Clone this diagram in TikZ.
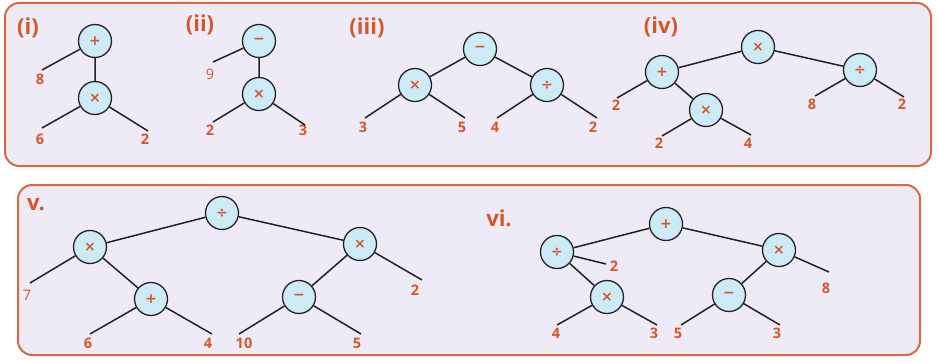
\documentclass[tikz,border=0pt]{standalone}
\usepackage{fontspec}
\setmainfont{Open Sans}
\newfontfamily\opfont{DejaVu Sans}
\definecolor{bord}{HTML}{D96A3F}
\definecolor{panelfill}{HTML}{EEEBF7}
\definecolor{txt}{HTML}{D4572A}
\definecolor{nodefill}{HTML}{CDEAF7}
\definecolor{linec}{HTML}{222222}
\begin{document}
\begin{tikzpicture}[x=1pt,y=-1pt,
  op/.style={circle, draw=linec, line width=1.3pt, fill=nodefill, minimum size=33pt, inner sep=0pt, text=txt, font=\opfont\bfseries\fontsize{14}{14}\selectfont},
  lf/.style={text=txt, font=\bfseries\fontsize{14.5}{14.5}\selectfont, inner sep=0pt},
  lfl/.style={text=txt, font=\fontsize{14.5}{14.5}\selectfont, inner sep=0pt},
  hd/.style={text=txt, font=\bfseries\fontsize{22}{22}\selectfont, inner sep=0pt},
  conn/.style={draw=linec, line width=1.5pt},
  panel/.style={draw=bord, line width=2pt, fill=panelfill, rounded corners=14pt}]
\useasboundingbox (0,0) rectangle (938,361);
\path[panel] (5,3) rectangle (931,166);
\path[panel] (18,185) rectangle (920,355);

% (i)
\node[hd] (hi) at (28,28) {(i)};
\node[op] (i1) at (95,41) {+};
\node[op] (i2) at (95,98) {×};
\coordinate (ia) at (42,70);
\coordinate (ib) at (42,128);
\coordinate (ic) at (148,131);
\node[lf] (la) at (40,79) {8};
\node[lf] (lb) at (40,139) {6};
\node[lf] (lc) at (145,139) {2};
\draw[conn] (i1)--(ia) (i1)--(i2) (i2)--(ib) (i2)--(ic);

% (ii)
\node[hd] (hii) at (200,25) {(ii)};
\node[op] (ii1) at (259,41) {−};
\node[op] (ii2) at (259,94) {×};
\coordinate (iia) at (213,62);
\coordinate (iib) at (213,122);
\coordinate (iic) at (305,125);
\node[lfl] (l2a) at (210,74) {9};
\node[lf] (l2b) at (210,130) {2};
\node[lf] (l2c) at (303,130) {3};
\draw[conn] (ii1)--(iia) (ii1)--(ii2) (ii2)--(iib) (ii2)--(iic);

% (iii)
\node[hd] (hiii) at (367,28) {(iii)};
\node[op] (t3r) at (480,49) {−};
\node[op] (t3a) at (415,85) {×};
\node[op] (t3b) at (547,85) {÷};
\coordinate (c3a) at (365,118);
\coordinate (c3b) at (465,118);
\coordinate (c3c) at (497,118);
\coordinate (c3d) at (597,118);
\node[lf] (l3a) at (363,127) {3};
\node[lf] (l3b) at (462,127) {5};
\node[lf] (l3c) at (495,127) {4};
\node[lf] (l3d) at (593,127) {2};
\draw[conn] (t3r)--(t3a) (t3r)--(t3b) (t3a)--(c3a) (t3a)--(c3b) (t3b)--(c3c) (t3b)--(c3d);

% (iv)
\node[hd] (hiv) at (661,27) {(iv)};
\node[op] (t4r) at (758,47) {×};
\node[op] (t4a) at (662,72) {+};
\node[op] (t4b) at (706,110) {×};
\node[op] (t4c) at (860,70) {÷};
\coordinate (c4a) at (617,98);
\coordinate (c4b) at (662,136);
\coordinate (c4c) at (751,135);
\coordinate (c4d) at (815,96);
\coordinate (c4e) at (904,97);
\node[lf] (l4a) at (616,105) {2};
\node[lf] (l4b) at (659,143) {2};
\node[lf] (l4c) at (748,143) {4};
\node[lf] (l4d) at (812,104) {8};
\node[lf] (l4e) at (902,104) {2};
\draw[conn] (t4r)--(t4a) (t4r)--(t4c) (t4a)--(c4a) (t4a)--(t4b) (t4b)--(c4b) (t4b)--(c4c) (t4c)--(c4d) (t4c)--(c4e);

% v.
\node[hd] (hv) at (36,205) {v.};
\node[op] (t5r) at (222,213) {÷};
\node[op] (t5a) at (90,247) {×};
\node[op] (t5b) at (151,299) {+};
\node[op] (t5c) at (360,244) {×};
\node[op] (t5d) at (299,297) {−};
\coordinate (c5a) at (30,283);
\coordinate (c5b) at (90,334);
\coordinate (c5c) at (212,334);
\coordinate (c5d) at (239,334);
\coordinate (c5e) at (361,334);
\coordinate (c5f) at (422,280);
\node[lfl] (l5a) at (27,295) {7};
\node[lf] (l5b) at (88,343) {6};
\node[lf] (l5c) at (208,343) {4};
\node[lf] (l5d) at (244,343) {10};
\node[lf] (l5e) at (357,343) {5};
\node[lf] (l5f) at (415,290) {2};
\draw[conn] (t5r)--(t5a) (t5r)--(t5c) (t5a)--(c5a) (t5a)--(t5b) (t5b)--(c5b) (t5b)--(c5c) (t5c)--(t5d) (t5c)--(c5f) (t5d)--(c5d) (t5d)--(c5e);

% vi.
\node[hd] (hvi) at (499,218) {vi.};
\node[op] (t6r) at (666,224) {+};
\node[op] (t6a) at (557,252) {÷};
\node[op] (t6b) at (607,297) {×};
\node[op] (t6c) at (779,250) {×};
\node[op] (t6d) at (729,295) {−};
\coordinate (c6a) at (606,264);
\coordinate (c6b) at (557,325);
\coordinate (c6c) at (657,325);
\coordinate (c6d) at (681,325);
\coordinate (c6e) at (780,325);
\coordinate (c6f) at (829,272);
\node[lf] (l6a) at (614,266) {2};
\node[lf] (l6b) at (556,333) {4};
\node[lf] (l6c) at (654,333) {3};
\node[lf] (l6d) at (678,333) {5};
\node[lf] (l6e) at (777,333) {3};
\node[lf] (l6f) at (826,288) {8};
\draw[conn] (t6r)--(t6a) (t6r)--(t6c) (t6a)--(c6a) (t6a)--(t6b) (t6b)--(c6b) (t6b)--(c6c) (t6c)--(t6d) (t6c)--(c6f) (t6d)--(c6d) (t6d)--(c6e);
\end{tikzpicture}
\end{document}
